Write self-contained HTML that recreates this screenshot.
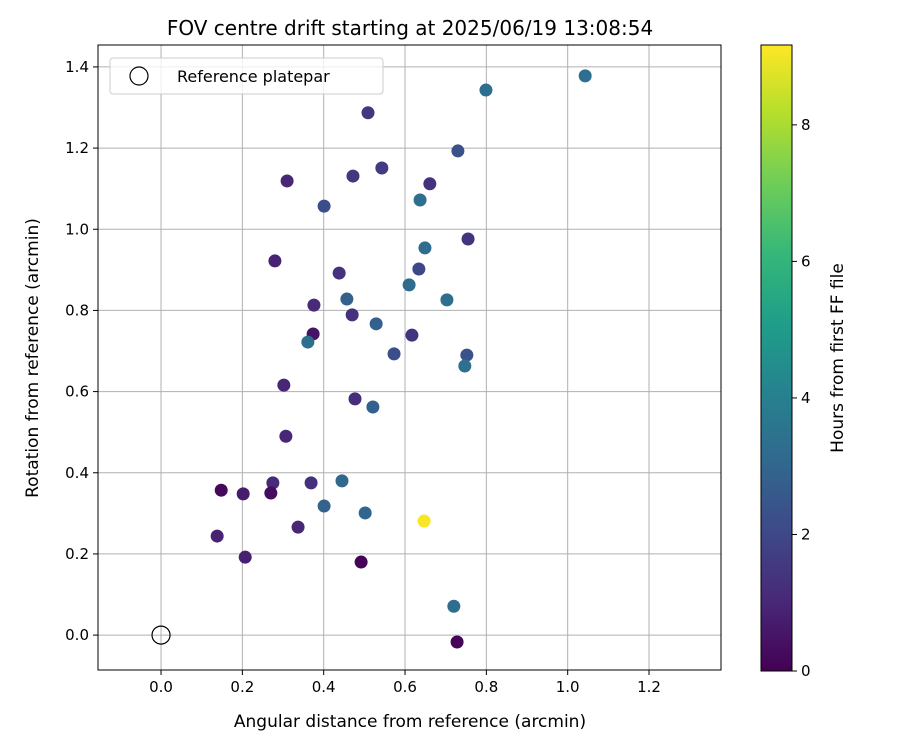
<!DOCTYPE html>
<html><head><meta charset="utf-8"><style>
body{margin:0;background:#fff;font-family:"Liberation Sans","DejaVu Sans",sans-serif}
</style></head><body>
<svg id="chart" width="900" height="750" xmlns="http://www.w3.org/2000/svg" font-family="DejaVu Sans, Liberation Sans, sans-serif">
<defs><linearGradient id="vir" x1="0" y1="1" x2="0" y2="0"></linearGradient></defs>
<g id="grid"></g><g id="marks"></g><g id="axes"></g>
</svg>
<script>
const xs=[1.043,0.799,0.509,0.730,0.310,0.472,0.543,0.661,0.637,0.401,0.755,0.649,0.280,0.438,0.634,0.610,0.457,0.703,0.376,0.470,0.529,0.374,0.361,0.617,0.573,0.752,0.747,0.302,0.477,0.521,0.307,0.275,0.369,0.445,0.148,0.202,0.270,0.401,0.502,0.647,0.337,0.138,0.207,0.492,0.720,0.728];
const ys=[1.378,1.343,1.287,1.193,1.119,1.131,1.151,1.112,1.072,1.057,0.976,0.954,0.922,0.892,0.902,0.863,0.828,0.826,0.813,0.789,0.767,0.742,0.722,0.739,0.693,0.690,0.663,0.616,0.582,0.562,0.490,0.375,0.375,0.380,0.357,0.348,0.350,0.318,0.301,0.281,0.266,0.244,0.192,0.180,0.071,-0.017];
const hours=[3.3,3.3,1.5,2.3,1.0,1.5,1.6,1.3,3.3,2.2,1.4,3.2,0.9,1.3,2.0,3.2,2.8,3.3,1.1,1.3,2.8,0.5,3.3,1.4,2.2,2.3,3.4,1.0,1.2,2.8,1.0,1.1,1.3,3.1,0.2,0.7,0.3,2.9,3.0,9.1,1.0,0.9,0.8,0.1,3.3,0.1];
const xTicks=[0.0,0.2,0.4,0.6,0.8,1.0,1.2];
const yTicks=[0.0,0.2,0.4,0.6,0.8,1.0,1.2,1.4];
const cTicks=[0,2,4,6,8];
const L=98,R=721,T=45,B=670;
const xmin=-0.155,xmax=1.377,ymin=-0.086,ymax=1.454,hmax=9.17;
const X=v=>L+(v-xmin)/(xmax-xmin)*(R-L);
const Y=v=>B-(v-ymin)/(ymax-ymin)*(B-T);
const vs=[[68,1,84],[72,40,120],[62,73,137],[49,104,142],[38,130,142],[31,158,137],[53,183,121],[109,205,89],[180,222,44],[253,231,37]];
function vir(t){t=Math.max(0,Math.min(1,t))*9;const i=Math.min(8,Math.floor(t)),f=t-i;const c=vs[i].map((a,k)=>Math.round(a+(vs[i+1][k]-a)*f));return `rgb(${c})`;}
const NS="http://www.w3.org/2000/svg";
function el(tag,attrs,parent,txt){const e=document.createElementNS(NS,tag);for(const k in attrs)e.setAttribute(k,attrs[k]);if(txt!==undefined)e.textContent=txt;parent.appendChild(e);return e;}
const svg=document.getElementById('chart'),grid=document.getElementById('grid'),marks=document.getElementById('marks'),axes=document.getElementById('axes');
const g=document.getElementById('vir');vs.forEach((c,i)=>el('stop',{offset:(i/9),'stop-color':`rgb(${c})`},g));
xTicks.forEach(v=>{const x=X(v);
const l=el('line',{x1:x,x2:x,y1:T,y2:B,stroke:'#b0b0b0','stroke-width':1},grid);

el('line',{x1:x,x2:x,y1:B,y2:B+5,stroke:'#000'},axes);
const t=el('text',{x:x,y:B+22,'font-size':15,'text-anchor':'middle'},axes,v.toFixed(1));
});
yTicks.forEach(v=>{const y=Y(v);
const l=el('line',{x1:L,x2:R,y1:y,y2:y,stroke:'#b0b0b0','stroke-width':1},grid);

el('line',{x1:L-5,x2:L,y1:y,y2:y,stroke:'#000'},axes);
const t=el('text',{x:L-9,y:y+5,'font-size':15,'text-anchor':'end'},axes,v.toFixed(1));
});
xs.forEach((v,i)=>{const c=el('circle',{cx:X(v),cy:Y(ys[i]),r:6.5,fill:vir(hours[i]/hmax)},marks);
});
const ref=el('circle',{cx:X(0),cy:Y(0),r:9,fill:'none',stroke:'#000','stroke-width':1.2},marks);

const fr=el('rect',{x:L,y:T,width:R-L,height:B-T,fill:'none',stroke:'#000','stroke-width':1},axes);

const CL=761,CR=792,CT=45,CB=671;
const cb=el('rect',{x:CL,y:CT,width:CR-CL,height:CB-CT,fill:'url(#vir)',stroke:'#000','stroke-width':1},axes);

cTicks.forEach(v=>{const y=CB-v/hmax*(CB-CT);
el('line',{x1:CR,x2:CR+5,y1:y,y2:y,stroke:'#000'},axes);
const t=el('text',{x:CR+9,y:y+5,'font-size':15},axes,String(v));
});
</script>
<svg style="position:absolute;left:0;top:0" width="900" height="750" font-family="DejaVu Sans, Liberation Sans, sans-serif">
<text x="410" y="35" font-size="20" text-anchor="middle">FOV centre drift starting at 2025/06/19 13:08:54</text>
<text x="410" y="727" font-size="17" text-anchor="middle">Angular distance from reference (arcmin)</text>
<text transform="translate(38,358) rotate(-90)" font-size="17" text-anchor="middle">Rotation from reference (arcmin)</text>
<text transform="translate(843,358) rotate(-90)" font-size="17" text-anchor="middle">Hours from first FF file</text>
<g>
<rect x="110" y="58" width="273" height="36" rx="3" fill="#fff" fill-opacity="0.8" stroke="#ccc"/>
<circle cx="139" cy="76" r="9" fill="none" stroke="#000" stroke-width="1.2"/>
<text x="177" y="82" font-size="16">Reference platepar</text>
</g>
</svg>
</body></html>
